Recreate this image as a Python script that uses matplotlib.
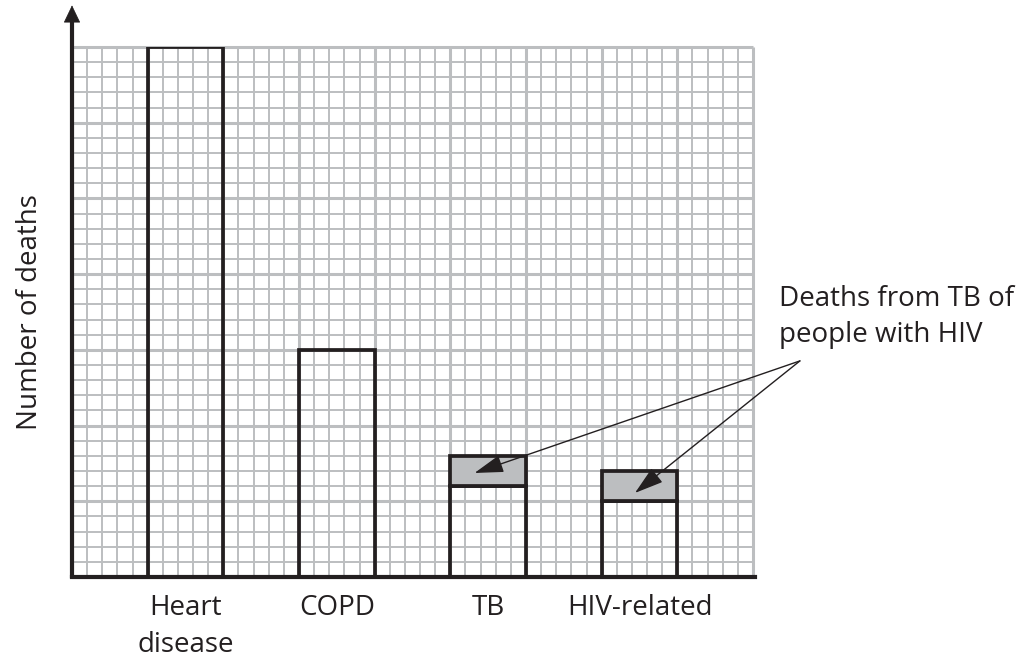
import numpy as np
import matplotlib
matplotlib.use("Agg")
import matplotlib.pyplot as plt

# ---- data (in grid-square units) ----
categories = ["Heart\ndisease", "COPD", "TB", "HIV-related"]
total_deaths = [35, 15, 8, 7]
tb_hiv_deaths = [0, 0, 2, 2]
bar_centers = [7.5, 17.5, 27.5, 37.5]
ylabel = "Number of deaths"
note = "Deaths from TB of\npeople with HIV"

BLACK = "#231f20"
GREY = "#bcbec0"
FONT = "Open Sans"
FS = 20

fig = plt.figure(figsize=(10.30, 6.62), dpi=100)
ax = fig.add_axes([72 / 1030, 85 / 662, 681 / 1030, 530 / 662])
ax.set_xlim(0, 45)
ax.set_ylim(0, 35)

# grid paper
xs = np.arange(0, 46)
ys = np.arange(0, 36)
for x in xs:
    major = x % 5 == 0
    ax.vlines(x, 0, 35, color=GREY, lw=2.2 if major else 1.4, zorder=1, clip_on=False)
for y in ys:
    major = y % 5 == 0
    ax.hlines(y, 0, 45, color=GREY, lw=2.2 if major else 1.4, zorder=1, clip_on=False)

# bars
lower = [t - h for t, h in zip(total_deaths, tb_hiv_deaths)]
ax.bar(bar_centers, lower, width=5, fill=False, edgecolor=BLACK, lw=2.7, zorder=3)
sel = [i for i, h in enumerate(tb_hiv_deaths) if h > 0]
ax.bar([bar_centers[i] for i in sel], [tb_hiv_deaths[i] for i in sel],
       bottom=[lower[i] for i in sel], width=5, color=GREY, edgecolor=BLACK,
       lw=2.7, zorder=3)

# axes
for s in ["top", "right", "left"]:
    ax.spines[s].set_visible(False)
ax.spines["bottom"].set_linewidth(3)
ax.spines["bottom"].set_color(BLACK)
ax.spines["bottom"].set_zorder(4)
ax.spines["bottom"].set_bounds(0, 45.15)
ax.plot([0, 0], [-0.08, 36.8], color=BLACK, lw=3, clip_on=False, zorder=5,
        solid_capstyle="butt")
ax.annotate("", xy=(0, 37.75), xytext=(0, 36.6),
            arrowprops=dict(arrowstyle="-|>,head_length=1.15,head_width=0.55",
                            color=BLACK, lw=0.5, mutation_scale=10,
                            shrinkA=0, shrinkB=0),
            annotation_clip=False, zorder=6)

ax.set_xticks(bar_centers)
ax.set_xticklabels(categories, fontsize=FS, family=FONT, color=BLACK,
                   linespacing=1.45)
ax.set_yticks([])
ax.tick_params(axis="x", length=0, pad=12)
ax.set_ylabel(ylabel, fontsize=FS, family=FONT, color=BLACK, labelpad=20)

# annotation
ax.text(46.7, 15.52, note, fontsize=FS, family=FONT, color=BLACK,
        ha="left", va="baseline", linespacing=1.38, clip_on=False)
src = (48.1, 14.27)
for tgt in [(26.6, 6.87), (37.2, 5.55)]:
    ax.annotate("", xy=tgt, xytext=src,
                arrowprops=dict(arrowstyle="-|>,head_length=1.8,head_width=0.55",
                                color=BLACK, lw=1.0, mutation_scale=10,
                                shrinkA=0, shrinkB=0),
                annotation_clip=False, zorder=6)

fig.savefig("out.png", dpi=100)
